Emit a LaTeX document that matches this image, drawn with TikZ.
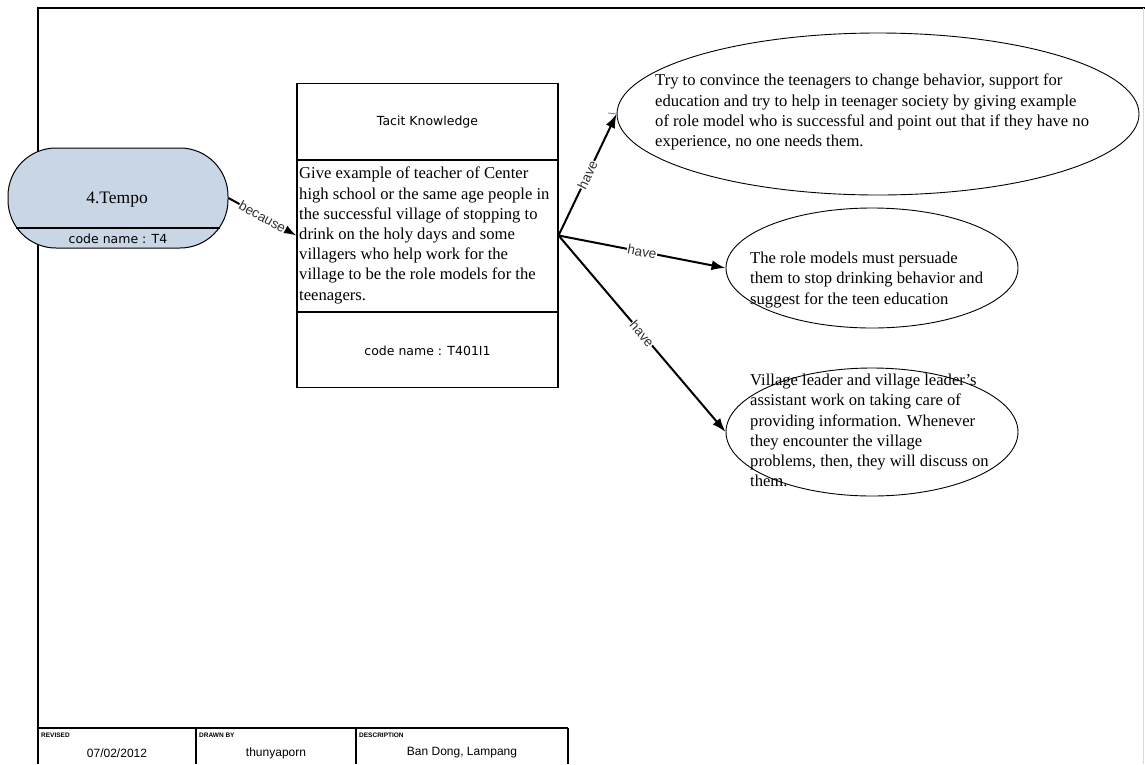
\documentclass[tikz,border=0pt]{standalone}
\usepackage{fontspec}
\setmainfont{Liberation Serif}
\newfontfamily\labelsans{Liberation Sans}
\newfontfamily\boxsans{DejaVu Sans}
\usetikzlibrary{arrows.meta,shapes.geometric}
\definecolor{tempofill}{RGB}{201,214,230}
\definecolor{tickblue}{RGB}{80,130,200}
\definecolor{labelgray}{RGB}{50,50,50}

\begin{document}
\begin{tikzpicture}[x=1pt,y=-1pt,
  frame/.style={line width=2.4pt},
  cell/.style={line width=2pt},
  bodytext/.style={font=\fontsize{16.6}{20.2}\selectfont, align=left, inner sep=0pt, anchor=north west},
  sanstext/.style={font=\boxsans\fontsize{12.5}{14}\selectfont, inner sep=0pt},
  bubble/.style={ellipse, draw, line width=0.9pt, inner sep=0pt},
  link/.style={line width=2pt, -{Latex[length=14pt,width=10pt]}},
  linklabel/.style={font=\labelsans\fontsize{13.5}{15}\selectfont, text=labelgray, sloped, midway, fill=white, inner sep=0.6pt},
  tbhead/.style={font=\labelsans\bfseries\fontsize{6.5}{8}\selectfont, anchor=west, inner sep=0pt},
  tbvalue/.style={font=\labelsans\fontsize{12}{14}\selectfont, inner sep=0pt}
]
\useasboundingbox (0,0) rectangle (1145,764);

% sheet border
\draw[frame] (38,764) -- (38,8) -- (1145,8);
\draw[black!15, line width=0.8pt] (1143,8) -- (1143,764);

% person node
\node[draw, line width=1pt, rounded corners=48pt, fill=tempofill,
      minimum width=220pt, minimum height=100pt] (tempo) at (118,198) {};
\draw[line width=2pt] (16,228) -- (220,228);
\node[font=\fontsize{17.5}{20}\selectfont, inner sep=0pt] (temponame) at (117,200) {4.Tempo};
\node[sanstext] (tempocode) at (118,239) {code name : T4};

% tacit knowledge card
\node[draw, line width=1.1pt, minimum width=261pt, minimum height=304pt, inner sep=0pt] (kbox) at (427.5,235.5) {};
\draw[line width=1.1pt] (297,160) -- (558,160);
\draw[line width=1.1pt] (297,312) -- (558,312);
\node[sanstext] (khead) at (427.5,122) {Tacit Knowledge};
\node[bodytext] (kbody) at (299,167) {Give example of teacher of Center\\
high school or the same age people in\\
the successful village of stopping to\\
drink on the holy days and some\\
villagers who help work for the\\
village to be the role models for the\\
teenagers.};
\node[sanstext] (kcode) at (427.5,351) {code name : T401I1};

% outcome ellipses
\node[bubble, minimum width=522pt, minimum height=162pt] (e1) at (878,114) {};
\node[bubble, minimum width=292pt, minimum height=120pt] (e2) at (872,268) {};
\node[bubble, minimum width=292pt, minimum height=128pt] (e3) at (872,432) {};

\node[bodytext] (e1text) at (655,74) {Try to convince the teenagers to change behavior, support for\\
education and try to help in teenager society by giving example\\
of role model who is successful and point out that if they have no\\
experience, no one needs them.};
\node[bodytext] (e2text) at (750,252) {The role models must persuade\\
them to stop drinking behavior and\\
suggest for the teen education};
\node[bodytext] (e3text) at (750,374) {Village leader and village leader's\\
assistant work on taking care of\\
providing information. Whenever\\
they encounter the village\\
problems, then, they will discuss on\\
them.};

% small marker at the first ellipse
\draw[tickblue, line width=0.8pt] (608,113) -- (e1.west);

% connectors
\draw[link] (tempo.east) -- node[linklabel] {because} (kbox.west);
\draw[link] (kbox.east) -- node[linklabel] {have} (e1.west);
\draw[link] (kbox.east) -- node[linklabel] {have} (e2.west);
\draw[link] (kbox.east) -- node[linklabel] {have} (e3.west);

% title block
\draw[cell] (38,728) -- (568,728);
\draw[cell] (196,728) -- (196,764);
\draw[cell] (356,728) -- (356,764);
\draw[cell] (568,728) -- (568,764);
\node[tbhead] (revhead) at (41,735) {REVISED};
\node[tbhead] (drawhead) at (199,735) {DRAWN BY};
\node[tbhead] (deschead) at (359,735) {DESCRIPTION};
\node[tbvalue] (revval) at (117,753) {07/02/2012};
\node[tbvalue] (drawval) at (276,753) {thunyaporn};
\node[tbvalue] (descval) at (462,753) {Ban Dong, Lampang};
\end{tikzpicture}
\end{document}
